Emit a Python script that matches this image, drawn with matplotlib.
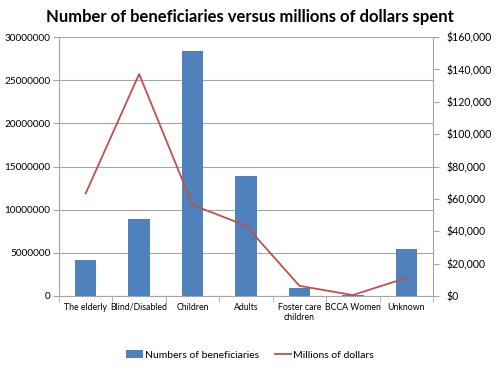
import matplotlib
matplotlib.use('Agg')
import matplotlib.pyplot as plt
import matplotlib.ticker as mticker
import numpy as np

plt.rcParams['font.family'] = ['Lato', 'DejaVu Sans']

categories = ['The elderly', 'Blind/Disabled', 'Children', 'Adults',
              'Foster care\nchildren', 'BCCA Women', 'Unknown']
beneficiaries = [4150000, 8950000, 28350000, 13950000, 950000, 80000, 5450000]
dollars = [63400, 137200, 56200, 43400, 6200, 500, 11100]

BAR = '#4f81bd'
LINE = '#c0504d'
GRID = '#a6a6a6'

fig = plt.figure(figsize=(5, 3.75), dpi=100)
ax = fig.add_axes([0.118, 0.211, 0.748, 0.690])
x = np.arange(len(categories))
bars = ax.bar(x, beneficiaries, width=0.4, color=BAR, zorder=2,
              label='Numbers of beneficiaries')
ax.set_xlim(-0.5, len(categories) - 0.5)
ax.set_ylim(0, 30000000)
ax.set_yticks(range(0, 30000001, 5000000))
ax.yaxis.set_major_formatter(mticker.FuncFormatter(lambda v, p: f'{int(v)}'))
ax.grid(axis='y', color=GRID, linewidth=0.8, zorder=0)
ax.set_xticks(x)
ax.set_xticklabels(categories, fontsize=6.3)
ax.set_xticks(np.arange(-0.5, len(categories)), minor=True)
ax.tick_params(axis='x', which='major', length=0, pad=5)
ax.tick_params(axis='x', which='minor', length=4, color=GRID)
ax.tick_params(axis='y', length=4, color=GRID, labelsize=7.2, pad=2)
for s in ['top', 'right']:
    ax.spines[s].set_visible(False)
for s in ['left', 'bottom']:
    ax.spines[s].set_color(GRID)

ax2 = ax.twinx()
line, = ax2.plot(x, dollars, color=LINE, linewidth=1.3, zorder=3,
                 label='Millions of dollars')
ax2.set_ylim(0, 160000)
ax2.set_yticks(range(0, 160001, 20000))
ax2.yaxis.set_major_formatter(mticker.FuncFormatter(lambda v, p: f'${int(v):,}'))
ax2.tick_params(axis='y', length=4, color=GRID, labelsize=7.6, pad=6)
for s in ['top', 'left', 'bottom']:
    ax2.spines[s].set_visible(False)
ax2.spines['right'].set_color(GRID)

fig.suptitle('Number of beneficiaries versus millions of dollars spent',
             x=0.5, y=0.975, fontsize=12, fontweight='bold')
fig.legend([bars, line], ['Numbers of beneficiaries', 'Millions of dollars'],
           loc='center', bbox_to_anchor=(0.5, 0.053), ncol=2, frameon=False,
           fontsize=7.5, handlelength=1.6, columnspacing=1.5, handletextpad=0.2)

fig.savefig('out.png', dpi=100)
